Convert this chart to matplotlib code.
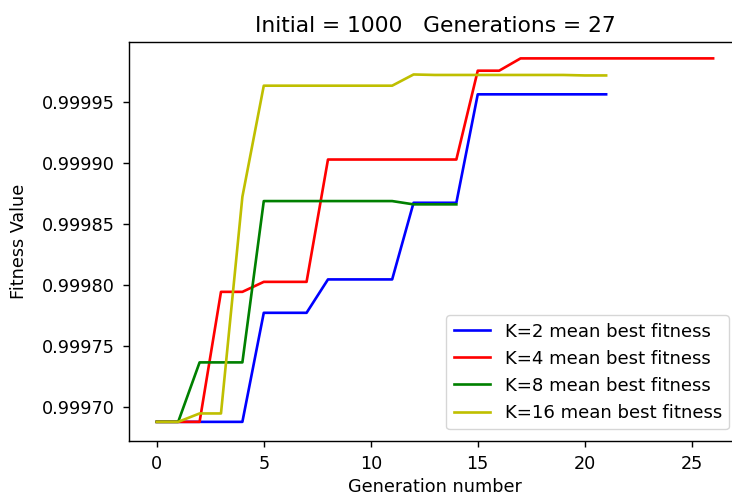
import matplotlib
matplotlib.use("Agg")
import matplotlib.pyplot as plt
from matplotlib.ticker import FormatStrFormatter

# mean best fitness per generation
k2 = [0.9996877, 0.9996877, 0.9996877, 0.9996877, 0.9996877,
      0.9997772, 0.9997772, 0.9997772,
      0.9998046, 0.9998046, 0.9998046, 0.9998046,
      0.9998675, 0.9998675, 0.9998675,
      0.9999565, 0.9999565, 0.9999565, 0.9999565, 0.9999565, 0.9999565, 0.9999565]
k4 = [0.9996877, 0.9996877, 0.9996877,
      0.9997944, 0.9997944,
      0.9998026, 0.9998026, 0.9998026,
      0.9999030, 0.9999030, 0.9999030, 0.9999030, 0.9999030, 0.9999030, 0.9999030,
      0.9999759, 0.9999759,
      0.9999860, 0.9999860, 0.9999860, 0.9999860, 0.9999860, 0.9999860, 0.9999860,
      0.9999860, 0.9999860, 0.9999860]
k8 = [0.9996877, 0.9996877,
      0.9997365, 0.9997365, 0.9997365,
      0.9998689, 0.9998689, 0.9998689, 0.9998689, 0.9998689, 0.9998689, 0.9998689,
      0.9998662, 0.9998662, 0.9998662]
k16 = [0.9996877, 0.9996877,
       0.9996946, 0.9996946,
       0.9998724,
       0.9999636, 0.9999636, 0.9999636, 0.9999636, 0.9999636, 0.9999636, 0.9999636,
       0.9999728,
       0.9999724, 0.9999724, 0.9999724, 0.9999724, 0.9999724, 0.9999724, 0.9999724,
       0.9999720, 0.9999720]

series = [(k2, 'b', 'K=2 mean best fitness'),
          (k4, 'r', 'K=4 mean best fitness'),
          (k8, 'g', 'K=8 mean best fitness'),
          (k16, 'y', 'K=16 mean best fitness')]

s = 1.27  # scale from the original small inline figure
plt.rcParams['font.size'] = 10 * s
plt.rcParams['xtick.major.size'] = 3.5 * s
plt.rcParams['ytick.major.size'] = 3.5 * s
plt.rcParams['xtick.major.width'] = 0.8 * s
plt.rcParams['ytick.major.width'] = 0.8 * s
plt.rcParams['xtick.major.pad'] = 6
plt.rcParams['ytick.major.pad'] = 6
plt.rcParams['axes.linewidth'] = 0.8 * s

fig = plt.figure(figsize=(7.32, 4.97), dpi=100)
ax = fig.add_axes([0.1762, 0.1127, 0.836, 0.8034])

for vals, col, lab in series:
    ax.plot(range(len(vals)), vals, color=col, label=lab, linewidth=1.5 * s)

ax.set_ylim(0.999672, 0.9999997)
ax.set_title('Initial = 1000   Generations = 27', fontsize=15.7, pad=7)
ax.set_xlabel('Generation number', labelpad=3)
ax.set_ylabel('Fitness Value', labelpad=10)
ax.yaxis.set_major_formatter(FormatStrFormatter('%.5f'))
ax.legend(loc='lower right', borderaxespad=0.65, fontsize=13.1)

fig.savefig('out.png', dpi=100)
